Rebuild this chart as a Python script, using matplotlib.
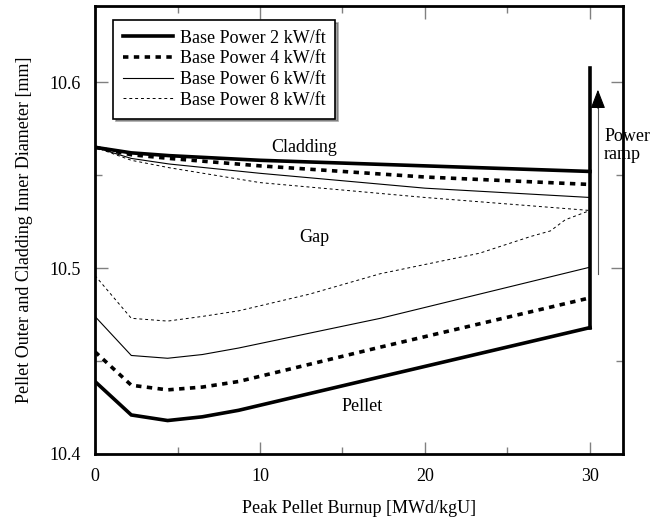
import matplotlib
matplotlib.use("Agg")
import matplotlib.pyplot as plt
import numpy as np

plt.rcParams["font.family"] = ["Liberation Serif", "DejaVu Serif"]
plt.rcParams["font.size"] = 13

# burnup points [MWd/kgU]
clad_x = [0, 2.2, 4.5, 10, 20, 30]
clad_2 = [10.565, 10.562, 10.5605, 10.558, 10.555, 10.552]
clad_4 = [10.565, 10.561, 10.559, 10.555, 10.549, 10.545]
clad_6 = [10.565, 10.559, 10.556, 10.551, 10.543, 10.538]
clad_8 = [10.565, 10.558, 10.554, 10.546, 10.538, 10.531]

pel_x = [0, 2.2, 4.4, 6.5, 8.7, 17.3, 30]
pel_2 = [10.439, 10.421, 10.418, 10.420, 10.4235, 10.4415, 10.468]
pel_4 = [10.455, 10.437, 10.4345, 10.436, 10.439, 10.4575, 10.484]
pel_6 = [10.474, 10.453, 10.4515, 10.4535, 10.457, 10.473, 10.5005]

pel8_x = [0, 2.2, 4.4, 6.5, 8.7, 13, 17.3, 23.3, 26.4, 27.6, 28.5, 30]
pel_8 = [10.496, 10.473, 10.4715, 10.474, 10.477, 10.486, 10.497, 10.508,
         10.517, 10.520, 10.526, 10.531]

labels = ["Base Power 2 kW/ft", "Base Power 4 kW/ft",
          "Base Power 6 kW/ft", "Base Power 8 kW/ft"]

ramp_x = 30
ramp_top = 10.6075


def main():
    fig = plt.figure(figsize=(6.57, 5.17), dpi=100)
    ax = fig.add_axes([95 / 657, 1 - 454 / 517, (623 - 95) / 657, (454 - 6) / 517])

    s2 = dict(color="black", lw=2.6, solid_joinstyle="miter")
    s4 = dict(color="black", lw=2.6, dashes=(1.5, 1.5))
    s6 = dict(color="black", lw=0.8)
    s8 = dict(color="black", lw=0.7, dashes=(3, 3))

    ax.plot(clad_x, clad_2, label=labels[0], **s2)
    ax.plot(clad_x, clad_4, label=labels[1], **s4)
    ax.plot(clad_x, clad_6, label=labels[2], **s6)
    ax.plot(clad_x, clad_8, label=labels[3], **s8)

    ax.plot(pel_x, pel_2, **s2)
    ax.plot(pel_x, pel_4, **s4)
    ax.plot(pel_x, pel_6, **s6)
    ax.plot(pel8_x, pel_8, **s8)

    # power ramp line + arrow
    ax.plot([ramp_x, ramp_x], [pel_2[-1], ramp_top], color="black", lw=2.6)
    ax.plot([30.48, 30.48], [10.497, 10.588], color="#555555", lw=0.8)
    ax.annotate("", xy=(30.48, 10.596), xytext=(30.48, 10.586),
                arrowprops=dict(arrowstyle="-|>,head_length=0.9,head_width=0.35",
                                color="black", lw=0.8, shrinkA=0, shrinkB=0))
    ax.text(30.85, 10.566, "Power\nramp", ha="left", va="center", linespacing=1.05)

    ax.text(12.7, 10.565, "Cladding", ha="center", va="center")
    ax.text(13.3, 10.5167, "Gap", ha="center", va="center")
    ax.text(16.2, 10.4253, "Pellet", ha="center", va="center")

    ax.set_xlim(0, 32)
    ax.set_ylim(10.4, 10.641)
    ax.set_xticks([0, 10, 20, 30])
    ax.set_xticks([5, 15, 25], minor=True)
    ax.set_yticks([10.4, 10.5, 10.6])
    ax.set_yticks([10.45, 10.55], minor=True)
    ax.set_yticklabels(["10.4", "10.5", "10.6"])
    ax.tick_params(which="both", direction="in", top=True, right=True,
                   color="#808080", labelsize=13, pad=10)
    ax.tick_params(which="major", length=9, width=1)
    ax.tick_params(which="minor", length=5, width=1)
    for sp in ax.spines.values():
        sp.set_linewidth(2)

    ax.set_xlabel("Peak Pellet Burnup [MWd/kgU]", labelpad=11)
    ax.set_ylabel("Pellet Outer and Cladding Inner Diameter [mm]", labelpad=12)

    leg = ax.legend(loc="upper left", bbox_to_anchor=(0.034, 0.969), frameon=True,
                    fancybox=False, shadow=True, handlelength=2.8,
                    handletextpad=0.35, labelspacing=0.2, borderpad=0.55,
                    borderaxespad=0, fontsize=13)
    leg.get_frame().set_edgecolor("black")
    leg.get_frame().set_linewidth(1.2)

    fig.savefig("out.png", dpi=100)


if __name__ == "__main__":
    main()
